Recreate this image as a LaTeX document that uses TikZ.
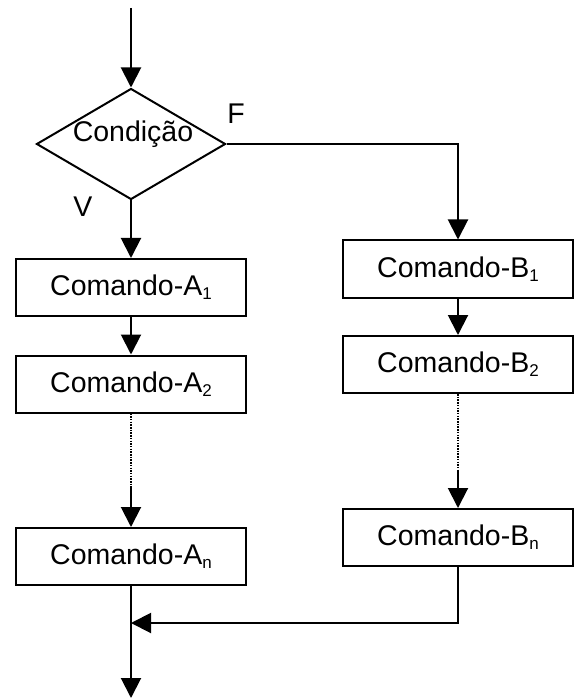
\documentclass[tikz,border=0pt]{standalone}
\usepackage{fontspec}
\setmainfont{Liberation Sans}
\usetikzlibrary{arrows.meta,shapes.geometric}
\newcommand\subidx[1]{\raisebox{-4pt}{\fontsize{17}{17}\selectfont #1}}
\begin{document}
\begin{tikzpicture}[x=1pt,y=-1pt,
  line width=2pt,
  arr/.style={-{Triangle[length=20pt,width=20pt]}},
  cmdbox/.style={draw,rectangle,minimum width=230pt,minimum height=57pt,inner sep=0pt,font=\fontsize{28.5}{34}\selectfont},
  lbl/.style={font=\fontsize{28.5}{34}\selectfont,inner sep=0pt},
  dots/.style={line width=1.5pt,dash pattern=on 1.5pt off 1.2pt}]
\useasboundingbox (0,0) rectangle (576,700);

\node[draw,diamond,minimum width=189pt,minimum height=111pt,inner sep=0pt] (cond) at (131,144) {};
\node[lbl,anchor=base] (condtxt) at (133,142) {Condição};
\node[lbl] (ftxt) at (236,114) {F};
\node[lbl] (vtxt) at (83,207) {V};

\node[cmdbox] (a1) at (131,287.5) {Comando-A\subidx{1}};
\node[cmdbox] (a2) at (131,384) {Comando-A\subidx{2}};
\node[cmdbox] (an) at (131,556.5) {Comando-A\subidx{n}};
\node[cmdbox] (b1) at (458,269) {Comando-B\subidx{1}};
\node[cmdbox] (b2) at (458,364.5) {Comando-B\subidx{2}};
\node[cmdbox] (bn) at (458,537.5) {Comando-B\subidx{n}};

\coordinate (start) at (131,8);
\coordinate (adot) at (131,488);
\coordinate (bdot) at (458,470);
\coordinate (merge) at (131,623);
\coordinate (end) at (131,698);

\draw[arr] (start) -- (cond.north);
\draw[arr] (cond.south) -- (a1.north);
\draw[arr] (cond.east) -| (b1.north);
\draw[arr] (a1.south) -- (a2.north);
\draw[dots] (a2.south) -- (adot);
\draw[arr] (adot) -- (an.north);
\draw[arr] (b1.south) -- (b2.north);
\draw[dots] (b2.south) -- (bdot);
\draw[arr] (bdot) -- (bn.north);
\draw[arr] (an.south) -- (end);
\draw[arr] (bn.south) |- (merge);
\end{tikzpicture}
\end{document}
